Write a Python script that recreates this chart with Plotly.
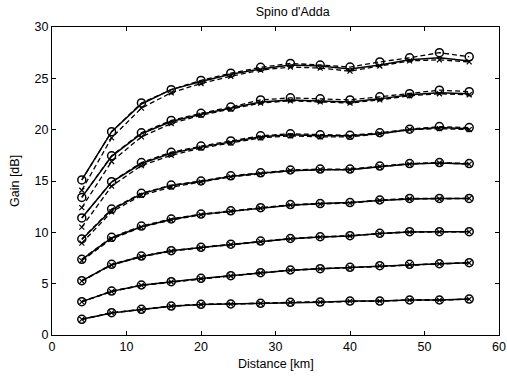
import plotly.graph_objects as go

distance_km = [4, 8, 12, 16, 20, 24, 28, 32, 36, 40, 44, 48, 52, 56]

# Solid-line series (one per curve group, top to bottom)
solid_series = [
    [15.1, 19.8, 22.5, 23.9, 24.7, 25.4, 25.9, 26.3, 26.2, 25.9, 26.3, 26.8, 27.0, 26.7],
    [13.4, 17.4, 19.6, 20.8, 21.5, 22.1, 22.7, 22.9, 22.8, 22.7, 23.0, 23.4, 23.6, 23.5],
    [11.4, 14.9, 16.7, 17.7, 18.3, 18.8, 19.3, 19.5, 19.4, 19.4, 19.6, 20.0, 20.2, 20.1],
    [9.3, 12.2, 13.75, 14.55, 14.95, 15.45, 15.75, 16.0, 16.1, 16.1, 16.4, 16.65, 16.75, 16.65],
    [7.35, 9.45, 10.55, 11.25, 11.75, 12.05, 12.4, 12.65, 12.8, 12.9, 13.1, 13.25, 13.3, 13.3],
    [5.28, 6.85, 7.65, 8.2, 8.52, 8.83, 9.12, 9.38, 9.55, 9.65, 9.88, 10.03, 10.05, 10.05],
    [3.25, 4.25, 4.85, 5.18, 5.5, 5.76, 6.05, 6.3, 6.45, 6.58, 6.73, 6.86, 6.93, 7.03],
    [1.53, 2.15, 2.48, 2.8, 2.98, 3.02, 3.08, 3.17, 3.2, 3.3, 3.31, 3.4, 3.41, 3.5],
]

# Dashed series with circle markers
circle_series = [
    [15.1, 19.8, 22.6, 23.9, 24.8, 25.5, 26.07, 26.45, 26.3, 26.1, 26.6, 27.0, 27.5, 27.1],
    [13.4, 17.46, 19.7, 20.9, 21.6, 22.2, 22.9, 23.1, 23.0, 22.9, 23.2, 23.5, 23.85, 23.7],
    [11.4, 14.93, 16.8, 17.8, 18.4, 18.9, 19.4, 19.6, 19.5, 19.45, 19.7, 20.05, 20.3, 20.2],
    [9.35, 12.27, 13.8, 14.6, 15.0, 15.5, 15.8, 16.07, 16.16, 16.16, 16.45, 16.7, 16.8, 16.7],
    [7.37, 9.51, 10.61, 11.3, 11.78, 12.1, 12.4, 12.7, 12.8, 12.9, 13.15, 13.3, 13.3, 13.3],
    [5.29, 6.88, 7.69, 8.21, 8.54, 8.85, 9.15, 9.4, 9.57, 9.67, 9.9, 10.06, 10.06, 10.06],
    [3.25, 4.28, 4.87, 5.19, 5.52, 5.78, 6.07, 6.33, 6.46, 6.59, 6.75, 6.88, 6.94, 7.04],
    [1.53, 2.17, 2.5, 2.82, 2.99, 3.02, 3.09, 3.18, 3.21, 3.31, 3.31, 3.41, 3.41, 3.5],
]

# Dashed series with cross markers
cross_series = [
    [14.1, 19.2, 22.1, 23.6, 24.5, 25.2, 25.8, 26.1, 26.0, 25.7, 26.2, 26.7, 26.8, 26.6],
    [12.4, 16.9, 19.3, 20.6, 21.4, 22.0, 22.6, 22.8, 22.7, 22.6, 22.9, 23.3, 23.5, 23.4],
    [10.5, 14.5, 16.5, 17.5, 18.2, 18.7, 19.2, 19.4, 19.3, 19.3, 19.6, 20.0, 20.1, 20.0],
    [8.95, 12.0, 13.6, 14.4, 14.9, 15.4, 15.7, 16.0, 16.1, 16.1, 16.4, 16.65, 16.75, 16.65],
    [7.25, 9.35, 10.5, 11.2, 11.7, 12.05, 12.35, 12.65, 12.75, 12.85, 13.1, 13.25, 13.25, 13.3],
    [5.25, 6.8, 7.62, 8.16, 8.5, 8.8, 9.1, 9.36, 9.53, 9.64, 9.87, 10.02, 10.04, 10.05],
    [3.23, 4.22, 4.83, 5.16, 5.49, 5.75, 6.04, 6.3, 6.44, 6.57, 6.73, 6.86, 6.92, 7.02],
    [1.52, 2.15, 2.48, 2.8, 2.97, 3.01, 3.08, 3.17, 3.2, 3.3, 3.3, 3.4, 3.4, 3.49],
]

x_ticks = [0, 10, 20, 30, 40, 50, 60]
y_ticks = [0, 5, 10, 15, 20, 25, 30]

FONT = "Liberation Sans, Arial, sans-serif"
FS = 12.5

fig = go.Figure()
for s, c, x in zip(solid_series, circle_series, cross_series):
    fig.add_trace(go.Scatter(
        x=distance_km, y=s, mode="lines",
        line=dict(color="black", width=1.5),
        showlegend=False, hoverinfo="skip"))
    fig.add_trace(go.Scatter(
        x=distance_km, y=x, mode="lines+markers",
        line=dict(color="black", width=1.3, dash="5px,3px"),
        marker=dict(symbol="x-thin-open", size=5, color="black",
                    line=dict(color="black", width=1.2)),
        showlegend=False, hoverinfo="skip"))
    fig.add_trace(go.Scatter(
        x=distance_km, y=c, mode="lines+markers",
        line=dict(color="black", width=1.3, dash="5px,3px"),
        marker=dict(symbol="circle-open", size=8, color="black",
                    line=dict(color="black", width=1.5)),
        showlegend=False, hoverinfo="skip"))

axis_common = dict(
    showgrid=False, zeroline=False, showline=True, linecolor="black",
    linewidth=1, mirror="ticks", ticks="inside", ticklen=4,
    tickcolor="black", automargin=False,
    tickfont=dict(family=FONT, size=FS, color="black"),
)

fig.update_layout(
    width=507, height=378,
    margin=dict(l=52, r=8, t=27, b=43),
    paper_bgcolor="white", plot_bgcolor="white",
    hovermode=False,
    title=dict(text="Spino d'Adda", x=273 / 507, xanchor="center",
               xref="paper", y=1 - 12 / 378, yanchor="middle",
               font=dict(family=FONT, size=FS, color="black")),
    xaxis=dict(range=[0, 60], tickvals=x_ticks, **axis_common),
    yaxis=dict(range=[0, 30], tickvals=y_ticks, **axis_common),
    annotations=[
        dict(text="Distance [km]", xref="paper", yref="paper",
             x=0.5, y=0, xanchor="center", yanchor="middle",
             yshift=-29, showarrow=False,
             font=dict(family=FONT, size=FS, color="black")),
        dict(text="Gain [dB]", xref="paper", yref="paper",
             x=0, y=0.5, xanchor="center", yanchor="middle",
             xshift=-37, textangle=-90, showarrow=False,
             font=dict(family=FONT, size=FS, color="black")),
    ],
)

fig.write_html(
    "out.html",
    config={"displayModeBar": False, "staticPlot": True},
    post_script="document.body.style.margin='0';document.body.style.padding='0';",
)
